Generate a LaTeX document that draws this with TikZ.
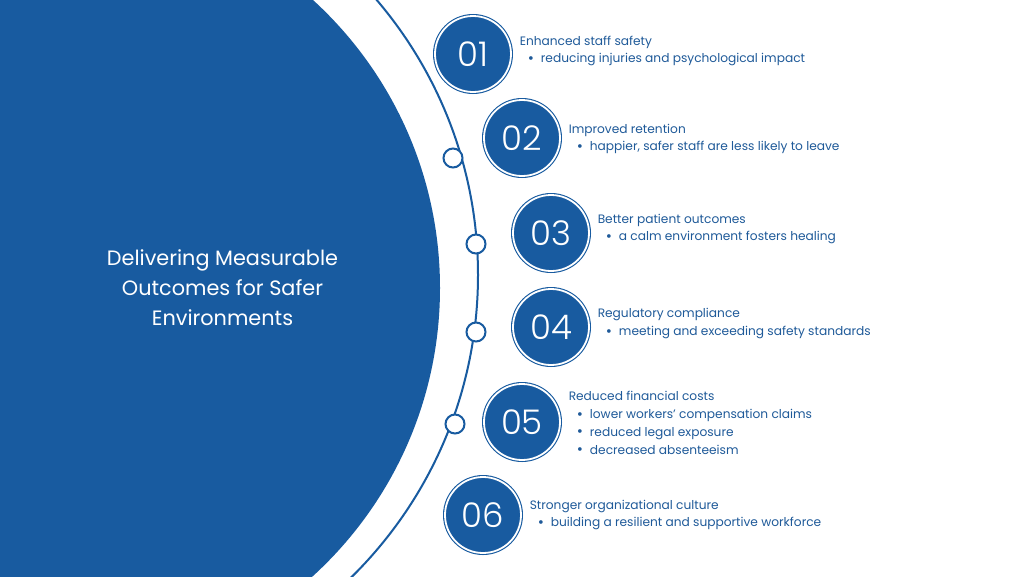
\documentclass[tikz,border=0pt]{standalone}
\usepackage{fontspec}
\setmainfont{Poppins}
\newfontfamily\numfont{Poppins Light}
\usetikzlibrary{positioning}
\definecolor{nblue}{HTML}{185BA0}
\definecolor{tblue}{HTML}{1F5A99}
\newcommand{\itm}[1]{\hspace*{8pt}\raisebox{-0.6pt}{\fontsize{15}{0}\selectfont\textbullet}\hspace{7pt}#1}

\begin{document}
\begin{tikzpicture}[x=1pt,y=-1pt,
    num/.style={circle,fill=nblue,draw=nblue,double=white,double distance=1.8pt,
      line width=1.1pt,minimum size=76pt,inner sep=0pt,text=white,
      font=\numfont\fontsize{34}{34}\selectfont},
    dot/.style={circle,fill=white,draw=nblue,line width=2pt,minimum size=19pt,inner sep=0pt},
    info/.style={align=left,text=tblue,font=\fontsize{12.2}{17.8}\selectfont,inner sep=0pt}]
  \path[use as bounding box,fill=white] (0,0) rectangle (1024,576);
  % big disc and thin arc
  \begin{scope}
    \clip (0,0) rectangle (1024,576);
    \fill[nblue] (50,288) circle[radius=390pt];
    \draw[nblue,line width=2pt] (54,275) circle[radius=424pt];
  \end{scope}
  \node[text=white,align=center,font=\fontsize{20.8}{30}\selectfont] (title) at (222.5,288)
    {Delivering Measurable\\Outcomes for Safer\\Environments};
  % dots on the arc
  \node[dot] (d1) at (453,158) {};
  \node[dot] (d2) at (476,244) {};
  \node[dot] (d3) at (476,332) {};
  \node[dot] (d4) at (455,424) {};
  % numbers
  \node[num] (n1) at (473,54) {01};
  \node[num] (n2) at (522,138) {02};
  \node[num] (n3) at (551,233) {03};
  \node[num] (n4) at (551,327) {04};
  \node[num] (n5) at (522,422) {05};
  \node[num] (n6) at (483,515) {06};
  % texts
  \node[info] (t1) [right=8pt of n1,yshift=3pt] {Enhanced staff safety\\
    \itm{reducing injuries and psychological impact}};
  \node[info] (t2) [right=8pt of n2,yshift=-1pt] {Improved retention\\
    \itm{happier, safer staff are less likely to leave}};
  \node[info] (t3) [right=8pt of n3,yshift=4pt] {Better patient outcomes\\
    \itm{a calm environment fosters healing}};
  \node[info] (t4) [right=8pt of n4,yshift=3.5pt] {Regulatory compliance\\
    \itm{meeting and exceeding safety standards}};
  \node[info] (t5) [right=8pt of n5,yshift=-1pt] {Reduced financial costs\\
    \itm{lower workers’ compensation claims}\\
    \itm{reduced legal exposure}\\
    \itm{decreased absenteeism}};
  \node[info] (t6) [right=8pt of n6] {Stronger organizational culture\\
    \itm{building a resilient and supportive workforce}};
\end{tikzpicture}
\end{document}
